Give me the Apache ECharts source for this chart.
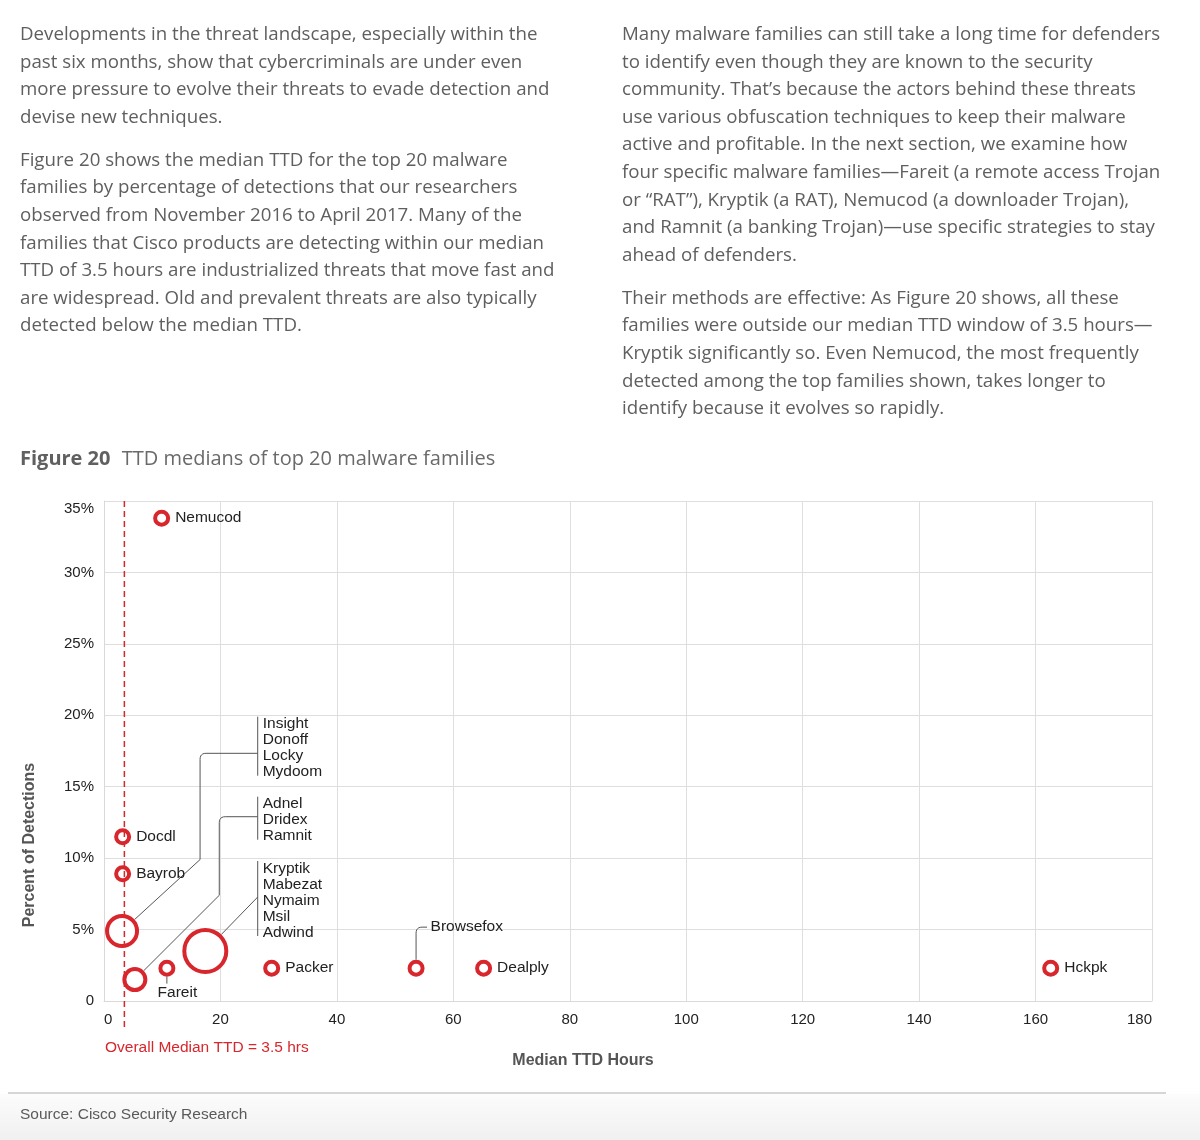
<!DOCTYPE html>
<html>
<head>
<meta charset="utf-8">
<script src="https://cdn.jsdelivr.net/npm/echarts@6/dist/echarts.min.js"></script>
<style>
html,body{margin:0;padding:0;background:#fff;}
#page{position:relative;width:1200px;height:1140px;overflow:hidden;font-family:"Open Sans","Liberation Sans",sans-serif;}
#band{position:absolute;left:0;top:1094px;width:1200px;height:46px;background:linear-gradient(#fcfcfc,#f0f0f0);}
#sep{position:absolute;left:8px;top:1092px;width:1158px;height:2px;background:#d6d6d6;}
#chart{position:absolute;left:0;top:0;width:1200px;height:1140px;}
.col{position:absolute;top:19px;color:#5f5f5f;font-size:18.7px;font-weight:400;line-height:27.6px;white-space:nowrap;z-index:2;}
.col p{margin:0 0 15.5px 0;}
#figtitle{position:absolute;left:20px;top:444px;font-size:20px;line-height:28px;color:#6a6a6a;white-space:nowrap;z-index:2;}
#figtitle b{color:#606060;margin-right:6px;}
#source{position:absolute;left:20px;top:1104px;font-size:15.5px;line-height:20px;color:#5a5a5a;font-family:"Liberation Sans",sans-serif;z-index:2;}
</style>
</head>
<body>
<div id="page">
  <div id="band"></div>
  <div id="sep"></div>
  <div id="chart"></div>
  <div class="col" style="left:20px;">
    <p>Developments in the threat landscape, especially within the<br>past six months, show that cybercriminals are under even<br>more pressure to evolve their threats to evade detection and<br>devise new techniques.</p>
    <p>Figure 20 shows the median TTD for the top 20 malware<br>families by percentage of detections that our researchers<br>observed from November 2016 to April 2017. Many of the<br>families that Cisco products are detecting within our median<br>TTD of 3.5 hours are industrialized threats that move fast and<br>are widespread. Old and prevalent threats are also typically<br>detected below the median TTD.</p>
  </div>
  <div class="col" style="left:622px;">
    <p>Many malware families can still take a long time for defenders<br>to identify even though they are known to the security<br>community. That’s because the actors behind these threats<br>use various obfuscation techniques to keep their malware<br>active and profitable. In the next section, we examine how<br>four specific malware families—Fareit (a remote access Trojan<br>or “RAT”), Kryptik (a RAT), Nemucod (a downloader Trojan),<br>and Ramnit (a banking Trojan)—use specific strategies to stay<br>ahead of defenders.</p>
    <p>Their methods are effective: As Figure 20 shows, all these<br>families were outside our median TTD window of 3.5 hours—<br>Kryptik significantly so. Even Nemucod, the most frequently<br>detected among the top families shown, takes longer to<br>identify because it evolves so rapidly.</p>
  </div>
  <div id="figtitle"><b>Figure 20</b> TTD medians of top 20 malware families</div>
  <div id="source">Source: Cisco Security Research</div>
</div>
<script>
// ---------- data ----------
const ttdHours      = [9.9, 3.2, 3.2, 3.1, 5.3, 10.8, 17.4, 28.8, 53.6, 65.2, 162.6];
const pctDetections = [33.8, 11.5, 8.9, 4.9, 1.5, 2.3, 3.5, 2.3, 2.3, 2.3, 2.3];
const familyCount   = [1, 1, 1, 4, 3, 1, 5, 1, 1, 1, 1];
const pointLabels   = ['Nemucod', 'Docdl', 'Bayrob', '', '', 'Fareit', '', 'Packer', 'Browsefox', 'Dealply', 'Hckpk'];
const groupInsight  = ['Insight', 'Donoff', 'Locky', 'Mydoom'];
const groupAdnel    = ['Adnel', 'Dridex', 'Ramnit'];
const groupKryptik  = ['Kryptik', 'Mabezat', 'Nymaim', 'Msil', 'Adwind'];
const xTickValues   = [0, 20, 40, 60, 80, 100, 120, 140, 160, 180];
const yTickLabels   = ['0', '5%', '10%', '15%', '20%', '25%', '30%', '35%'];
const medianTTD     = 3.5;
const medianLabel   = 'Overall Median TTD = 3.5 hrs';
const xAxisTitle    = 'Median TTD Hours';
const yAxisTitle    = 'Percent of Detections';

// ---------- styles ----------
const RED = '#d8262d';
const FONT = '"Liberation Sans", Arial, sans-serif';
const LABEL_SIZE = 15.5;
const sizeByCount = {1: 13, 3: 21, 4: 30, 5: 42};

const chart = echarts.init(document.getElementById('chart'), null, {renderer: 'canvas'});

const labelCfg = function (i) {
  const t = pointLabels[i];
  if (!t) return {show: false};
  const base = {show: true, formatter: t, fontFamily: FONT, fontSize: LABEL_SIZE, color: '#222'};
  if (t === 'Fareit') return Object.assign(base, {position: 'bottom', distance: 5, offset: [10.5, 3]});
  if (t === 'Browsefox') return Object.assign(base, {position: 'right', distance: 5, offset: [1, -41]});
  return Object.assign(base, {position: 'right', distance: 5});
};

const seriesData = ttdHours.map(function (x, i) {
  return {
    value: [x, pctDetections[i]],
    symbolSize: sizeByCount[familyCount[i]],
    label: labelCfg(i)
  };
});

const option = {
  animation: false,
  grid: {left: 104, right: 48, top: 501, bottom: 139, containLabel: false, outerBoundsMode: 'none'},
  xAxis: {
    type: 'value', min: 0, max: 180, interval: 20,
    axisLine: {show: true, lineStyle: {color: '#d9d9d9', width: 1}},
    axisTick: {show: false},
    splitLine: {show: true, lineStyle: {color: '#dedede', width: 1}},
    axisLabel: {
      fontFamily: FONT, fontSize: 15, color: '#222', margin: 11,
      alignMinLabel: 'left', alignMaxLabel: 'right',
      formatter: function (v) { return xTickValues.indexOf(v) >= 0 ? String(v) : ''; }
    }
  },
  yAxis: {
    type: 'value', min: 0, max: 35, interval: 5,
    axisLine: {show: true, lineStyle: {color: '#d9d9d9', width: 1}},
    axisTick: {show: false},
    splitLine: {show: true, lineStyle: {color: '#dedede', width: 1}},
    axisLabel: {
      fontFamily: FONT, fontSize: 15, color: '#222', margin: 10,
      verticalAlignMaxLabel: 'top',
      formatter: function (v) { return yTickLabels[Math.round(v / 5)]; }
    }
  },
  series: [{
    type: 'scatter',
    symbol: 'circle',
    data: seriesData,
    itemStyle: {color: '#fff', borderColor: RED, borderWidth: 4, opacity: 1},
    z: 3
  }]
};
chart.setOption(option);

// ---------- annotations computed from the axes ----------
const px = function (x, y) { return chart.convertToPixel({gridIndex: 0}, [x, y]); };
const origin = px(0, 0);
const gridTop = px(0, 35);
const medTop = px(medianTTD, 35);

function corner(p0, c, p1) {
  const pts = [];
  for (let k = 0; k <= 6; k++) {
    const t = k / 6, u = 1 - t;
    pts.push([u * u * p0[0] + 2 * u * t * c[0] + t * t * p1[0], u * u * p0[1] + 2 * u * t * c[1] + t * t * p1[1]]);
  }
  return pts;
}

// layout for the grouped labels (in data coordinates)
const groups = [
  {names: groupInsight, point: 3, anchor: [26.4, 19.9], leaderDy: 36.6, elbow: [16.5, 9.9]},
  {names: groupAdnel,   point: 4, anchor: [26.4, 14.3], leaderDy: 20,   elbow: [19.8, 7.4]},
  {names: groupKryptik, point: 6, anchor: [26.4, 9.8],  leaderDy: 36,   elbow: null}
];

const graphics = [];
const lineStyle = {stroke: '#555', lineWidth: 1, fill: null};

graphics.push({
  type: 'line', z: 10, silent: true,
  shape: {x1: medTop[0], y1: gridTop[1], x2: medTop[0], y2: origin[1] + 29},
  style: {stroke: RED, lineWidth: 1.5, lineDash: [6, 4]}
});
graphics.push({
  type: 'text', z: 10, x: origin[0] + 1, y: origin[1] + 47,
  style: {text: medianLabel, font: '15.5px ' + FONT, fill: RED, verticalAlign: 'middle', align: 'left'}
});
graphics.push({
  type: 'text', x: 30, y: 845, rotation: Math.PI / 2,
  style: {text: yAxisTitle, font: 'bold 16px ' + FONT, fill: '#555', verticalAlign: 'middle', align: 'center'}
});
graphics.push({
  type: 'text', x: 583, y: origin[1] + 60,
  style: {text: xAxisTitle, font: 'bold 16px ' + FONT, fill: '#555', verticalAlign: 'middle', align: 'center'}
});

groups.forEach(function (g) {
  const a = px(g.anchor[0], g.anchor[1]);
  const n = g.names.length;
  const bx = a[0], by = a[1];
  graphics.push({type: 'line', shape: {x1: bx, y1: by, x2: bx, y2: by + n * 16 - 5}, style: lineStyle});
  graphics.push({
    type: 'text', x: bx + 5, y: by - 0.5,
    style: {text: g.names.join('\n'), font: LABEL_SIZE + 'px ' + FONT, fill: '#222', lineHeight: 16, verticalAlign: 'top', align: 'left'}
  });
  const c = px(ttdHours[g.point], pctDetections[g.point]);
  const r = sizeByCount[familyCount[g.point]] / 2 + 2;
  const ly = by + g.leaderDy;
  let pts;
  if (g.elbow) {
    const ex = px(g.elbow[0], 0)[0];
    const ey = px(0, g.elbow[1])[1];
    const dx = ex - c[0], dy = ey - c[1], L = Math.sqrt(dx * dx + dy * dy);
    const end = [c[0] + r * dx / L, c[1] + r * dy / L];
    pts = [[bx, ly]].concat(corner([ex + 6, ly], [ex, ly], [ex, ly + 6])).concat([[ex, ey], end]);
  } else {
    const dx = bx - c[0], dy = ly - c[1], L = Math.sqrt(dx * dx + dy * dy);
    const end = [c[0] + r * dx / L, c[1] + r * dy / L];
    pts = [[bx, ly], end];
  }
  graphics.push({type: 'polyline', shape: {points: pts}, style: lineStyle});
});

// Fareit tick and Browsefox leader
(function () {
  const iF = pointLabels.indexOf('Fareit');
  const cF = px(ttdHours[iF], pctDetections[iF]);
  const rF = sizeByCount[1] / 2 + 2;
  graphics.push({type: 'line', shape: {x1: cF[0], y1: cF[1] + rF, x2: cF[0], y2: cF[1] + rF + 7}, style: lineStyle});
  const iB = pointLabels.indexOf('Browsefox');
  const cB = px(ttdHours[iB], pctDetections[iB]);
  const ty = cB[1] - 41;
  const pts = [[cB[0], cB[1] - rF]].concat(corner([cB[0], ty + 6], [cB[0], ty], [cB[0] + 6, ty])).concat([[cB[0] + 11, ty]]);
  graphics.push({type: 'polyline', shape: {points: pts}, style: lineStyle});
})();

chart.setOption({graphic: graphics});
</script>
</body>
</html>
